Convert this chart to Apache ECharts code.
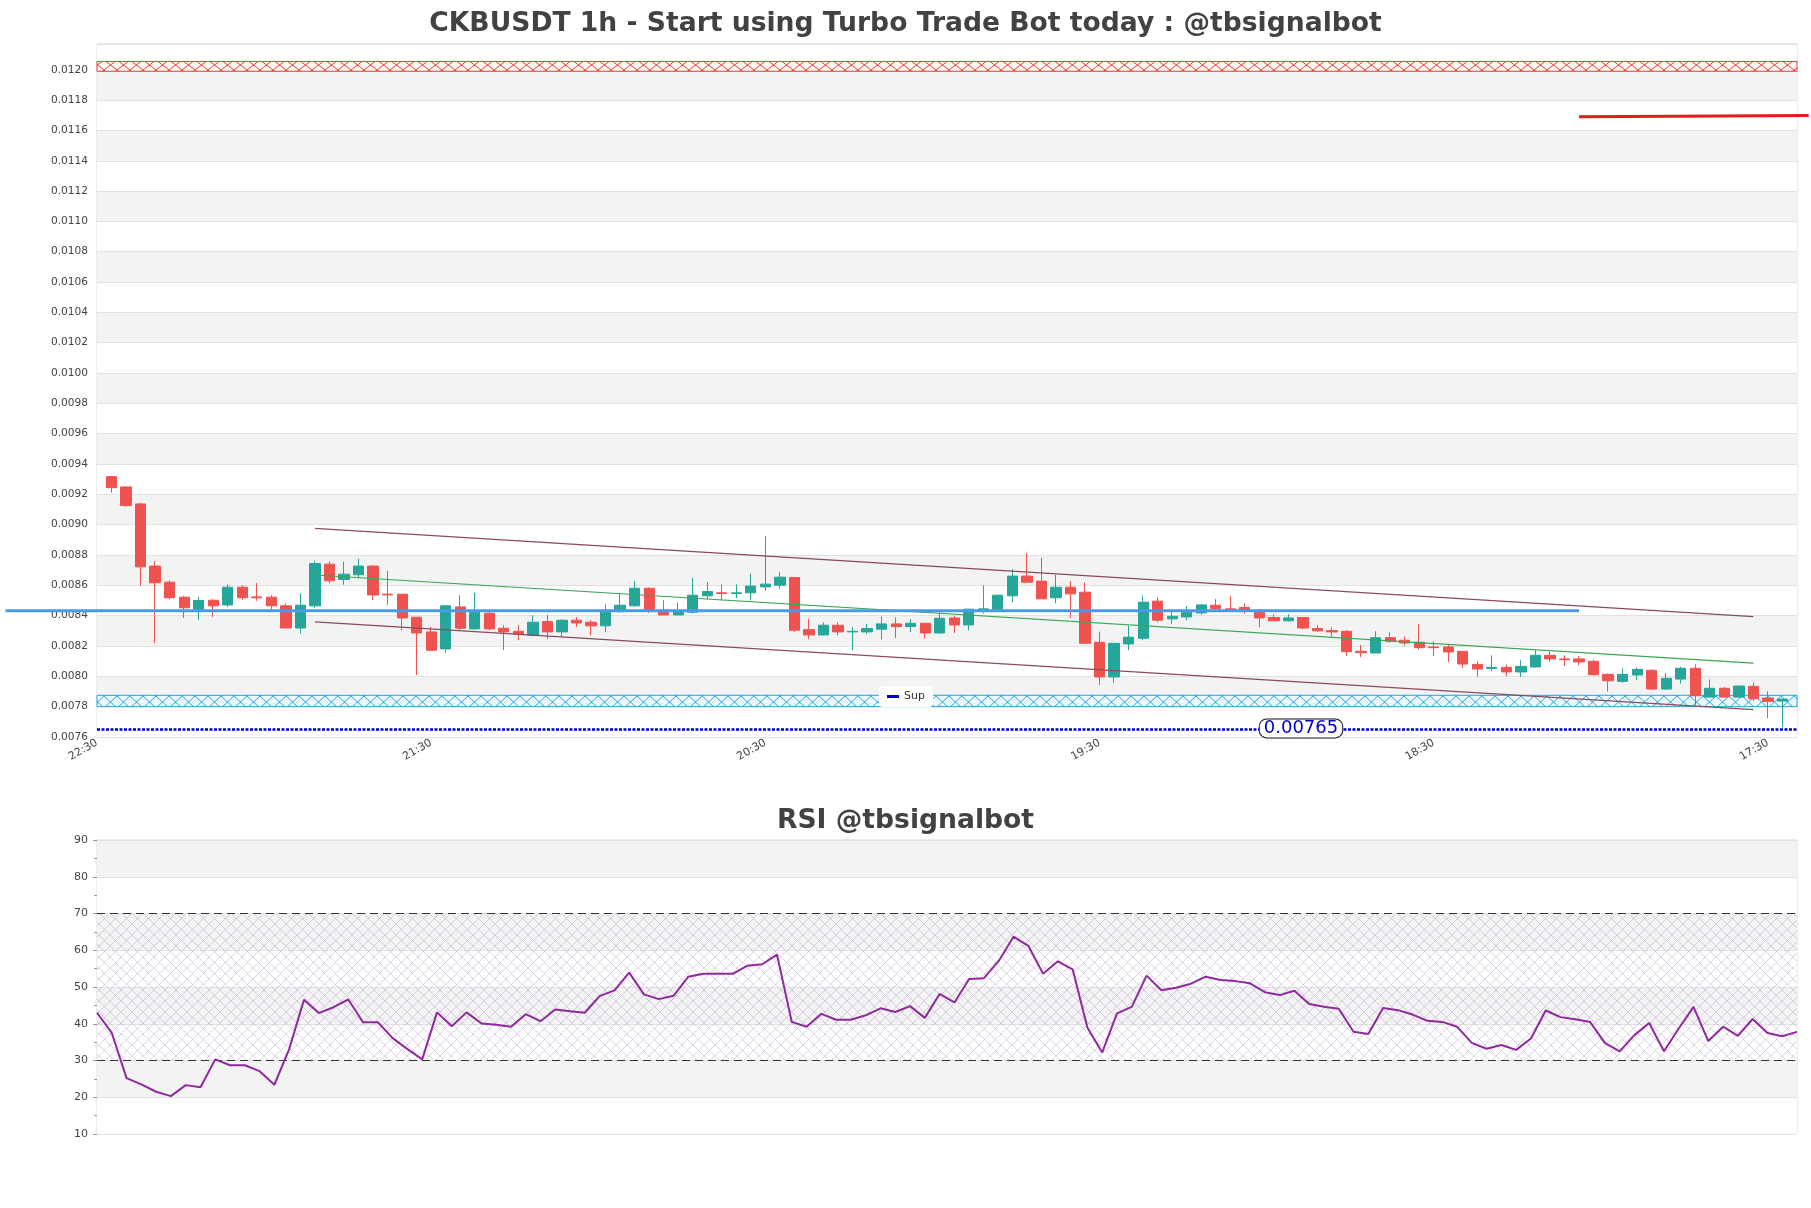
<!DOCTYPE html>
<html>
<head>
<meta charset="utf-8">
<script src="https://cdn.jsdelivr.net/npm/echarts@6/dist/echarts.min.js"></script>
<style>
html,body{margin:0;padding:0;background:#fff;}
#c{width:1811px;height:1208px;}
</style>
</head>
<body>
<div id="c"></div>
<script>
// ---------------- DATA ----------------
const titleMain = 'CKBUSDT 1h - Start using Turbo Trade Bot today : @tbsignalbot';
const titleRsi = 'RSI @tbsignalbot';
const startHour = 22;           // first slot label 22:30
const nSlots = 118;             // slot 0 and 117 are empty padding
const categories = Array.from({length: nSlots}, (_, i) => String((startHour + i) % 24).padStart(2, '0') + ':30');

const opens = [0.009317,0.009249,0.009137,0.008727,0.008621,0.008522,0.008443,0.008502,0.008471,0.008588,
0.008524,0.008522,0.008465,0.008319,0.008465,0.00874,0.008639,0.00867,0.008727,0.008542,
0.008542,0.00839,0.008293,0.008181,0.008458,0.008313,0.008416,0.008317,0.008297,0.008271,
0.008361,0.008293,0.00837,0.008357,0.008333,0.008432,0.008465,0.008581,0.008436,0.008405,
0.008423,0.008531,0.008551,0.008546,0.008551,0.00859,0.008601,0.008652,0.008308,0.008273,
0.008337,0.008293,0.008293,0.008311,0.008346,0.008328,0.00835,0.008286,0.008385,0.008339,
0.008438,0.008443,0.008531,0.008661,0.008628,0.008518,0.008588,0.008555,0.008225,0.007996,
0.008214,0.008251,0.008496,0.008379,0.008392,0.008418,0.008469,0.008445,0.008454,0.008436,
0.008388,0.008366,0.008388,0.008315,0.008302,0.008297,0.008165,0.008154,0.008255,0.008238,
0.008225,0.008194,0.008194,0.008165,0.008079,0.008051,0.008059,0.008029,0.008062,0.008139,
0.008115,0.008115,0.008099,0.008013,0.007967,0.008009,0.00804,0.007916,0.007982,0.008053,
0.007863,0.007921,0.007863,0.007934,0.007857,0.007837];
const closes = [0.009244,0.009126,0.008722,0.008617,0.008518,0.008452,0.0085,0.008465,0.008588,0.008518,
0.008518,0.008465,0.008319,0.008469,0.008744,0.00863,0.008674,0.008727,0.008537,0.008537,
0.008385,0.008286,0.008172,0.008465,0.008317,0.008423,0.008313,0.008293,0.00828,0.008357,
0.008293,0.00837,0.008352,0.008333,0.008436,0.008469,0.008581,0.008436,0.008405,0.00843,
0.008535,0.008559,0.008546,0.008551,0.008595,0.008608,0.008654,0.008304,0.008273,0.008337,
0.008293,0.008297,0.008315,0.008346,0.008328,0.00835,0.008286,0.008383,0.008339,0.008443,
0.008445,0.008535,0.008661,0.008621,0.008511,0.008588,0.008544,0.008218,0.007996,0.008218,
0.008258,0.008489,0.00837,0.008396,0.008423,0.008471,0.008447,0.00844,0.008432,0.008385,
0.008366,0.008385,0.008319,0.0083,0.008293,0.008163,0.008156,0.008255,0.008231,0.00822,
0.008189,0.008189,0.008161,0.008081,0.008048,0.008059,0.008029,0.008066,0.008139,0.008115,
0.00811,0.008095,0.008011,0.007971,0.008013,0.008046,0.007916,0.007987,0.008053,0.007872,
0.007921,0.007863,0.007936,0.007852,0.007835,0.00785];
const highs = [0.009322,0.009252,0.009145,0.00876,0.008634,0.008531,0.008524,0.008509,0.008606,0.008601,
0.008615,0.008535,0.00848,0.008548,0.00876,0.00876,0.008755,0.008775,0.008733,0.008696,
0.008542,0.00839,0.008326,0.008469,0.008535,0.008551,0.008436,0.008337,0.008339,0.008403,
0.008407,0.008377,0.00839,0.008372,0.008476,0.008546,0.008628,0.008588,0.008502,0.008487,
0.008648,0.008621,0.008606,0.008606,0.008678,0.008925,0.008687,0.008652,0.008381,0.008355,
0.008355,0.008326,0.008346,0.008396,0.008388,0.008377,0.00835,0.008421,0.008399,0.008443,
0.008601,0.00854,0.008707,0.008813,0.008782,0.00867,0.008628,0.008619,0.008295,0.008218,
0.008333,0.008531,0.008522,0.00844,0.008463,0.008478,0.008509,0.008529,0.008482,0.008445,
0.00841,0.00841,0.008392,0.008339,0.008322,0.008304,0.008207,0.008297,0.008291,0.008264,
0.008344,0.008229,0.008207,0.008165,0.008099,0.008139,0.008077,0.008106,0.008172,0.008163,
0.008139,0.008134,0.00811,0.008018,0.008053,0.008057,0.008046,0.008022,0.008064,0.008079,
0.00798,0.00793,0.00794,0.00796,0.007901,0.007852];
const lows = [0.009211,0.009119,0.008597,0.00822,0.008507,0.008385,0.008372,0.008392,0.008458,0.008504,
0.008498,0.00843,0.008319,0.008282,0.008452,0.008612,0.008604,0.008648,0.008504,0.008471,
0.008304,0.008009,0.008172,0.008154,0.008304,0.008308,0.008304,0.008172,0.008238,0.008264,
0.008247,0.008264,0.008326,0.008271,0.008291,0.008418,0.008458,0.008418,0.008405,0.008405,
0.008412,0.008509,0.0085,0.008515,0.008502,0.008564,0.008577,0.008291,0.008244,0.008271,
0.008271,0.008172,0.00828,0.008244,0.008253,0.008293,0.008251,0.008282,0.008286,0.008304,
0.008414,0.00844,0.008489,0.008615,0.008511,0.008482,0.008385,0.008216,0.007943,0.007956,
0.008172,0.008238,0.008357,0.008346,0.00837,0.008405,0.008434,0.008432,0.008412,0.008324,
0.008366,0.008361,0.008311,0.008295,0.00826,0.008134,0.008128,0.008154,0.008222,0.008203,
0.008176,0.008134,0.008095,0.008055,0.007996,0.008035,0.008,0.007996,0.008057,0.008095,
0.008068,0.008073,0.008007,0.007899,0.007958,0.007976,0.007912,0.00791,0.007952,0.007806,
0.007863,0.007863,0.007863,0.007837,0.007725,0.007665];

const rsiValues = [43.0,37.5,25.2,23.5,21.5,20.3,23.3,22.7,30.3,28.7,
28.7,27.1,23.4,33.1,46.5,42.9,44.5,46.6,40.4,40.4,
36.1,33.1,30.3,43.1,39.3,43.1,40.1,39.7,39.2,42.6,
40.7,43.9,43.4,43.0,47.5,49.1,53.9,48.0,46.7,47.6,
52.8,53.6,53.6,53.6,55.8,56.2,58.8,40.5,39.2,42.7,
41.1,41.1,42.3,44.2,43.2,44.8,41.6,48.1,45.8,52.2,
52.4,57.1,63.7,61.2,53.6,57.0,54.8,38.9,32.2,42.8,
44.6,53.1,49.1,49.8,50.9,52.8,51.9,51.6,51.0,48.6,
47.8,49.0,45.4,44.6,44.1,37.8,37.2,44.3,43.7,42.5,
40.8,40.5,39.2,34.8,33.2,34.2,32.9,36.0,43.6,41.8,
41.2,40.5,34.8,32.5,36.9,40.2,32.5,38.7,44.6,35.3,
39.2,36.7,41.3,37.5,36.6,37.8];

// channel lines [slot index, price]
const channelUpper = [[15, 0.008976], [114, 0.008394]];
const channelMid   = [[15, 0.008668], [114, 0.008087]];
const channelLower = [[15, 0.008359], [114, 0.00778]];
// horizontal levels
const supLevel = 0.00765;
const supLabelSlot = 83;
const resistanceZone = [0.011990, 0.012055];
const supportZone = [0.007800, 0.007875];
const blueLevel = [[-6.3, 0.008433], [102, 0.008433]];
const redLevel = [[102, 0.01169], [117.8, 0.011698]];
const rsiBands = [30, 70];

// ---------------- LAYOUT ----------------
const W = 1811, GL = 97, GR = 14, MAIN_TOP = 44, MAIN_H = 693, RSI_TOP = 840, RSI_H = 294;
const yMin = 0.0076, yMax = 0.01217;
const unit = (W - GL - GR) / (nSlots - 1);
const ovMin = -GL / unit, ovMax = (nSlots - 1) + GR / unit;

function hatchPattern(color, w, h, bg) {
  const cv = document.createElement('canvas');
  cv.width = w; cv.height = h;
  const ctx = cv.getContext('2d');
  ctx.fillStyle = bg; ctx.fillRect(0, 0, w, h);
  ctx.strokeStyle = color; ctx.lineWidth = 1;
  ctx.beginPath();
  ctx.moveTo(0, 0); ctx.lineTo(w, h);
  ctx.moveTo(w, 0); ctx.lineTo(0, h);
  ctx.stroke();
  return cv;
}
function crossHatch(color, s) {
  const cv = document.createElement('canvas');
  cv.width = s; cv.height = s;
  const ctx = cv.getContext('2d');
  ctx.strokeStyle = color; ctx.lineWidth = 0.7;
  ctx.beginPath();
  ctx.moveTo(0, 0); ctx.lineTo(s, s);
  ctx.moveTo(s, 0); ctx.lineTo(0, s);
  ctx.stroke();
  return cv;
}

const candleData = opens.map((o, i) => [i + 1, o, closes[i], lows[i], highs[i]]);
const rsiCats = rsiValues.map((_, i) => String(i));

const FONT = 'DejaVu Sans';
const chart = echarts.init(document.getElementById('c'));
chart.setOption({
  animation: false,
  backgroundColor: '#ffffff',
  title: [
    {text: titleMain, left: 'center', top: 6, textStyle: {fontFamily: FONT, fontSize: 26.6, fontWeight: 'bold', color: '#424242'}},
    {text: titleRsi, left: 'center', top: 803, textStyle: {fontFamily: FONT, fontSize: 26.6, fontWeight: 'bold', color: '#424242'}}
  ],
  legend: {
    data: ['Sup'], left: 879, top: 686, padding: [5, 8], itemGap: 6,
    icon: 'rect', itemWidth: 12, itemHeight: 3,
    backgroundColor: '#ffffff', borderRadius: 4,
    textStyle: {fontFamily: FONT, fontSize: 11, color: '#333'}
  },
  grid: [
    {left: GL, right: GR, top: MAIN_TOP, height: MAIN_H, show: true, borderColor: '#d8d8d8', borderWidth: 1, backgroundColor: 'transparent'},
    {left: GL, right: GR, top: RSI_TOP, height: RSI_H, show: true, borderColor: '#d8d8d8', borderWidth: 1, backgroundColor: 'transparent'},
    {left: 0, right: 0, top: MAIN_TOP, height: MAIN_H, show: false}
  ],
  xAxis: [
    {type: 'category', gridIndex: 0, data: categories, boundaryGap: false,
     axisLine: {show: false}, axisTick: {show: false}, splitLine: {show: false},
     axisLabel: {interval: 22, rotate: 30, fontFamily: FONT, fontSize: 11, color: '#444', margin: 5}},
    {type: 'category', gridIndex: 1, data: rsiCats, boundaryGap: false,
     axisLine: {show: false}, axisTick: {show: false}, axisLabel: {show: false}, splitLine: {show: false}},
    {type: 'value', gridIndex: 2, min: ovMin, max: ovMax, show: false}
  ],
  yAxis: [
    {type: 'value', gridIndex: 0, min: yMin, max: yMax, interval: 0.0002, scale: true,
     axisLine: {show: false}, axisTick: {show: false},
     axisLabel: {fontFamily: FONT, fontSize: 10.6, color: '#444', margin: 9, showMaxLabel: false,
       formatter: v => v.toFixed(4)},
     splitLine: {show: true, lineStyle: {color: '#e2e2e2', width: 1}},
     splitArea: {show: true, areaStyle: {color: ['#ffffff', '#f3f3f3']}}},
    {type: 'value', gridIndex: 1, min: 10, max: 90, interval: 10,
     axisLine: {show: false},
     axisTick: {show: true, length: 4, lineStyle: {color: '#999'}},
     minorTick: {show: true, splitNumber: 2, length: 3, lineStyle: {color: '#999'}},
     axisLabel: {fontFamily: FONT, fontSize: 11, color: '#444', margin: 9},
     splitLine: {show: true, lineStyle: {color: '#e2e2e2', width: 1}},
     splitArea: {show: true, areaStyle: {color: ['#ffffff', '#f3f3f3']}}},
    {type: 'value', gridIndex: 2, min: yMin, max: yMax, show: false}
  ],
  series: [
    {
      name: 'CKBUSDT', type: 'candlestick', xAxisIndex: 0, yAxisIndex: 0,
      data: candleData, encode: {x: 0, y: [1, 2, 3, 4]},
      barWidth: '74%',
      itemStyle: {color: '#26a69a', color0: '#ef5350', borderColor: '#26a69a', borderColor0: '#ef5350', borderWidth: 1},
      markArea: {
        silent: true,
        data: [
          [{yAxis: resistanceZone[0], itemStyle: {color: {image: hatchPattern('#e0443c', 13, 10, 'rgba(255,244,240,0.9)'), repeat: 'repeat'}, borderColor: '#e0443c', borderWidth: 1}},
           {yAxis: resistanceZone[1]}],
          [{yAxis: supportZone[0], itemStyle: {color: {image: hatchPattern('#27a4dc', 13, 12, 'rgba(235,250,255,0.9)'), repeat: 'repeat'}, borderColor: '#27a4dc', borderWidth: 1}},
           {yAxis: supportZone[1]}]
        ]
      }
    },
    {name: 'upper', type: 'line', xAxisIndex: 0, yAxisIndex: 0, data: channelUpper, showSymbol: false, silent: true,
     lineStyle: {color: '#8a4a5c', width: 1.3}, z: 3},
    {name: 'mid', type: 'line', xAxisIndex: 0, yAxisIndex: 0, data: channelMid, showSymbol: false, silent: true,
     lineStyle: {color: '#3aa655', width: 1.1}, z: 3},
    {name: 'lower', type: 'line', xAxisIndex: 0, yAxisIndex: 0, data: channelLower, showSymbol: false, silent: true,
     lineStyle: {color: '#8a4a5c', width: 1.3}, z: 3},
    {name: 'Sup', type: 'line', xAxisIndex: 0, yAxisIndex: 0,
     data: [[0, supLevel], [nSlots - 1, supLevel]], showSymbol: false, silent: true,
     itemStyle: {color: '#0000cc'},
     lineStyle: {color: '#0000cc', width: 2.5, type: [3, 1.5]}, z: 4,
     markPoint: {
       silent: true, symbol: 'rect', symbolSize: 1, itemStyle: {color: 'rgba(0,0,0,0)'},
       data: [{coord: [supLabelSlot, supLevel],
         label: {show: true, position: 'inside', formatter: supLevel.toFixed(5), offset: [-2, -1],
           fontFamily: FONT, fontSize: 18, color: '#0000cc', backgroundColor: '#ffffff',
           borderColor: '#111', borderWidth: 1, borderRadius: 7, padding: [0, 4], lineHeight: 18}}]
     }},
    {name: 'level', type: 'line', xAxisIndex: 2, yAxisIndex: 2, data: blueLevel, showSymbol: false, silent: true,
     lineStyle: {color: '#4a9ae6', width: 3}, z: 5},
    {name: 'res', type: 'line', xAxisIndex: 2, yAxisIndex: 2, data: redLevel, showSymbol: false, silent: true,
     lineStyle: {color: '#e41a1c', width: 3}, z: 5},
    {
      name: 'RSI', type: 'line', xAxisIndex: 1, yAxisIndex: 1, data: rsiValues, showSymbol: false, silent: true,
      lineStyle: {color: '#8e2b9c', width: 2}, z: 5,
      markArea: {silent: true, data: [[{yAxis: rsiBands[0], itemStyle: {color: {image: crossHatch('rgba(160,130,180,0.5)', 11), repeat: 'repeat'}}}, {yAxis: rsiBands[1]}]]},
      markLine: {silent: true, symbol: 'none', label: {show: false},
        lineStyle: {color: '#333', type: [8, 5], width: 1.2},
        data: [{yAxis: rsiBands[0]}, {yAxis: rsiBands[1]}]}
    }
  ]
});
</script>
</body>
</html>
